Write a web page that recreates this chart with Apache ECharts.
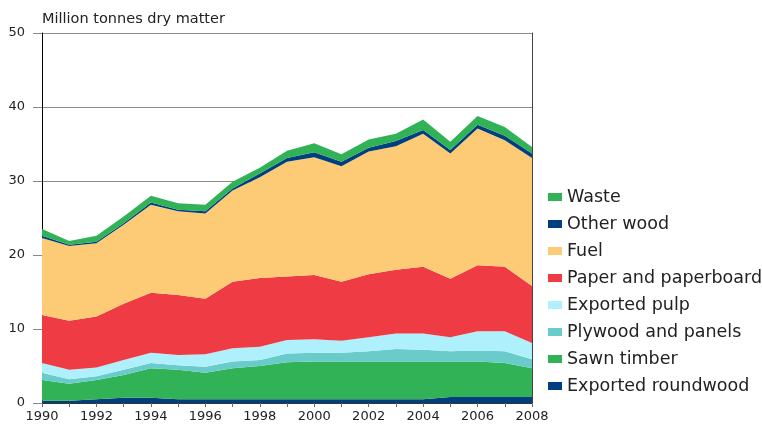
<!DOCTYPE html>
<html>
<head>
<meta charset="utf-8">
<script src="https://cdn.jsdelivr.net/npm/echarts@6/dist/echarts.min.js"></script>
<style>
html,body{margin:0;padding:0;background:#fff;}
#chart{width:763px;height:432px;}
</style>
</head>
<body>
<div id="chart"></div>
<script>
var years = ['1990','1991','1992','1993','1994','1995','1996','1997','1998','1999','2000','2001','2002','2003','2004','2005','2006','2007','2008'];
var exportedRoundwood = [0.3,0.3,0.5,0.7,0.7,0.5,0.5,0.5,0.5,0.5,0.5,0.5,0.5,0.5,0.5,0.8,0.8,0.8,0.8];
var sawnTimber = [2.8,2.3,2.6,3.1,4.0,4.0,3.6,4.2,4.5,5.0,5.1,5.1,5.1,5.1,5.1,4.8,4.8,4.6,3.9];
var plywoodPanels = [1.0,0.6,0.5,0.7,0.7,0.6,0.8,0.9,0.8,1.2,1.2,1.2,1.4,1.7,1.6,1.4,1.5,1.6,1.2];
var exportedPulp = [1.3,1.3,1.2,1.3,1.4,1.4,1.7,1.8,1.8,1.8,1.8,1.6,1.9,2.1,2.2,1.9,2.6,2.7,2.2];
var paper = [6.5,6.6,6.9,7.6,8.1,8.1,7.5,9.0,9.3,8.6,8.7,8.0,8.5,8.6,9.0,7.9,8.9,8.7,7.7];
var fuel = [10.4,10.1,9.9,10.7,11.9,11.3,11.5,12.3,13.6,15.5,15.9,15.6,16.6,16.7,18.0,16.9,18.5,17.1,17.3];
var otherWood = [0.3,0.2,0.2,0.2,0.3,0.2,0.3,0.3,0.5,0.5,0.7,0.6,0.5,0.7,0.5,0.5,0.5,0.6,0.6];
var waste = [0.9,0.5,0.8,0.9,0.9,0.9,0.9,0.9,0.8,1.0,1.2,1.0,1.1,1.0,1.4,1.1,1.2,1.2,0.9];

var seriesNames = ['Exported roundwood','Sawn timber','Plywood and panels','Exported pulp','Paper and paperboard','Fuel','Other wood','Waste'];
var seriesData = [exportedRoundwood, sawnTimber, plywoodPanels, exportedPulp, paper, fuel, otherWood, waste];
var colors = ['#003f7f','#31b256','#6accca','#aef0fb','#ef3b44','#fdcb75','#003f7f','#31b256'];
var legendOrder = ['Waste','Other wood','Fuel','Paper and paperboard','Exported pulp','Plywood and panels','Sawn timber','Exported roundwood'];

var FONT = 'DejaVu Sans';
var chart = echarts.init(document.getElementById('chart'), null, {renderer:'canvas'});
var series = seriesNames.map(function(n,i){
  return {
    name:n, type:'line', stack:'total', data:seriesData[i],
    showSymbol:false, symbol:'none',
    lineStyle:{width:0}, itemStyle:{color:colors[i]},
    areaStyle:{color:colors[i], opacity:1},
    emphasis:{disabled:true}, animation:false
  };
});
chart.setOption({
  animation:false,
  backgroundColor:'#ffffff',
  title:{text:'Million tonnes dry matter', left:37, top:7,
    textStyle:{fontFamily:FONT, fontSize:14.5, fontWeight:'normal', color:'#222'}},
  grid:{left:42, right:231, top:33, bottom:29, containLabel:false},
  legend:{orient:'vertical', left:543, top:183, itemWidth:14, itemHeight:8, itemGap:9,
    icon:'rect', data:legendOrder,
    textStyle:{fontFamily:FONT, fontSize:17.5, color:'#222'}},
  xAxis:{type:'category', boundaryGap:false, data:years,
    axisLine:{show:true, lineStyle:{color:'#333', width:1}},
    axisTick:{show:true, interval:0, length:4, lineStyle:{color:'#666'}},
    axisLabel:{interval:1, margin:7, fontFamily:FONT, fontSize:13, color:'#222'},
    splitLine:{show:false}},
  yAxis:[{type:'value', min:0, max:50, interval:10,
    axisLine:{show:true, lineStyle:{color:'#000', width:1}},
    axisTick:{show:true, length:9, lineStyle:{color:'#888'}},
    axisLabel:{margin:17, fontFamily:FONT, fontSize:13, color:'#222'},
    splitLine:{show:true, lineStyle:{color:'#8c8c8c', width:1}}},
    {type:'value', min:0, max:50, interval:10, position:'right',
    axisLine:{show:true, lineStyle:{color:'#444', width:1}},
    axisTick:{show:false}, axisLabel:{show:false}, splitLine:{show:false}}],
  series:series
});
</script>
</body>
</html>
